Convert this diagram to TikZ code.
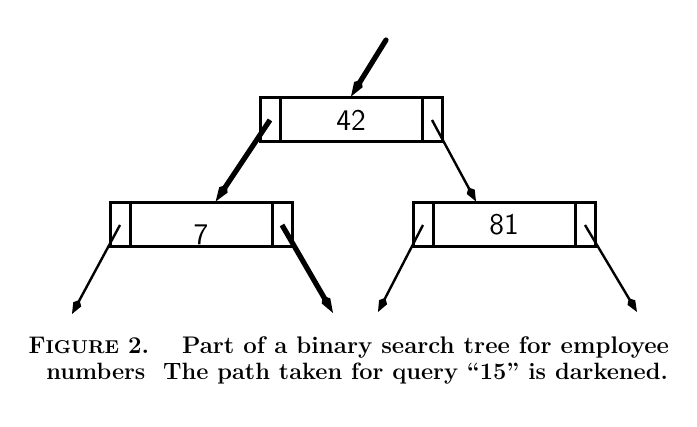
\documentclass[tikz,border=0pt]{standalone}
\usepackage{tikz}
\usetikzlibrary{arrows.meta, positioning}
\tikzset{
    cell/.style={draw, line width=1.5pt, minimum height=22pt, inner sep=0pt},
    side/.append style={cell, minimum width=10pt},
    key/.append style={cell, minimum width=71pt, font=\fontsize{15}{15}\sffamily},
    dark/.style={line width=2.6pt, -{Kite[length=10pt, width=5pt, inset=3pt]}},
    light/.style={line width=1.2pt, -{Kite[length=8pt, width=4.5pt, inset=2.5pt]}},
}

\begin{document}
\begin{tikzpicture}[x=0.5pt, y=-0.5pt]
    \useasboundingbox (0, 0) rectangle (697, 427);

    \node[side] (l1) at (270, 120) {};
    \node[key] (v1) at (351, 120) {42};
    \node[side] (r1) at (432, 120) {};

    \node[side] (l2) at (120, 225) {};
    \node[key] (v2) at (201, 225) {\raisebox{-10pt}[0pt][0pt]{7}};
    \node[side] (r2) at (282, 225) {};

    \node[side] (l3) at (423, 225) {};
    \node[key] (v3) at (504, 225) {81};
    \node[side] (r3) at (585, 225) {};

    \coordinate (root) at (386, 40);
    \coordinate (e1) at (72, 314);
    \coordinate (e2) at (333, 313);
    \coordinate (e3) at (378, 312);
    \coordinate (e4) at (637, 312);

    \draw[dark, line cap=round] (root) -- (v1.north);
    \draw[dark] (l1.center) -- (v2.58);
    \draw[light] (r1.center) -- (v3.140);
    \draw[light] (l2.center) -- (e1);
    \draw[dark] (r2.center) -- (e2);
    \draw[light] (l3.center) -- (e3);
    \draw[light] (r3.center) -- (e4);

    \node[anchor=base east, font=\fontsize{12}{13}\bfseries] (cap1) at (676, 354)
        {F{\fontsize{9.3}{10}\selectfont IGURE} 2.\quad\ Part of a binary search tree for employee};
    \node[anchor=base east, font=\fontsize{11.8}{13}\bfseries] (cap2) at (675, 380)
        {numbers\ \ The path taken for query ``15'' is darkened.};
\end{tikzpicture}
\end{document}
